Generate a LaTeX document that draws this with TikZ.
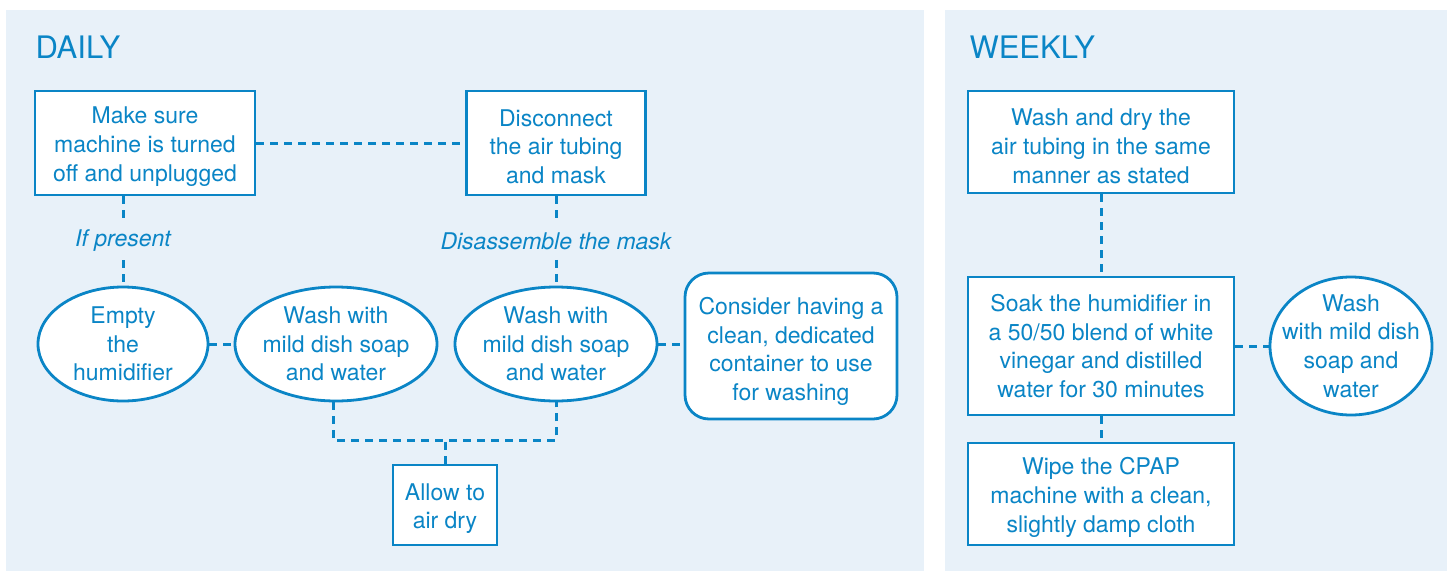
\documentclass[tikz,border=0pt]{standalone}
\usepackage{fontspec}
\setmainfont{TeX Gyre Heros}
\usetikzlibrary{shapes.geometric,positioning}
\definecolor{cpapblue}{HTML}{0A85C6}
\definecolor{panelbg}{HTML}{E8F1F9}
\newcommand\boxstrut[1][24pt]{\rule{0pt}{#1}}
\tikzset{
  stepbox/.style={draw=cpapblue,line width=2.8pt,fill=white,align=center,inner sep=0pt},
  stepoval/.style={ellipse,draw=cpapblue,line width=2.8pt,fill=white,align=center,inner sep=-16pt},
  link/.style={cpapblue,line width=3pt,dash pattern=on 8pt off 6pt}
}

\begin{document}
\begin{tikzpicture}[x=1pt,y=-1pt,
    every node/.style={text=cpapblue,font=\fontsize{23}{28.7}\selectfont},
    head/.style={anchor=base west,font=\fontsize{31}{34}\selectfont},
    note/.style={font=\fontsize{23}{28.7}\selectfont\itshape,inner sep=0pt}]
                \useasboundingbox (0,0) rectangle (1449,571);
                \fill[panelbg] (6,10) rectangle (924,571);
                \fill[panelbg] (945,10) rectangle (1447,571);
                \node [head] (daily) at (32,58) {DAILY};
                \node [head] (weekly) at (966,58) {WEEKLY};
                % daily
                \node [stepbox,minimum width=220pt,minimum height=104pt] (plug) at (145,143)
                    {\boxstrut Make sure\\machine is turned\\off and unplugged};
                \node [stepbox,minimum width=179pt,minimum height=104pt] (tube) at (556,143)
                    {\boxstrut Disconnect\\the air tubing\\and mask};
                \node [note] (ifpres) at (123,241) {If present};
                \node [note] (apart) at (556,241) {Disassemble the mask};
                \node [stepoval,minimum width=170pt,minimum height=114pt] (empty) at (123,344)
                    {Empty\\the\\humidifier};
                \node [stepoval,minimum width=202pt,minimum height=114pt] (soapa) at (336,344)
                    {Wash with\\mild dish soap\\and water};
                \node [stepoval,minimum width=202pt,minimum height=114pt] (soapb) at (556,344)
                    {Wash with\\mild dish soap\\and water};
                \node [stepbox,rounded corners=24pt,minimum width=212pt,minimum height=146pt] (tub) at (791,346)
                    {\boxstrut[28pt]Consider having a\\clean, dedicated\\container to use\\for washing};
                \node [stepbox,minimum width=104pt,minimum height=80pt] (dry) at (445,505)
                    {\boxstrut Allow to\\air dry};
                \draw [link] (plug) -- (tube);
                \draw [link] (plug.south -| empty.north) -- ([yshift=8pt]ifpres.north);
                \draw [link] ([yshift=-8pt]ifpres.south) -- (empty.north);
                \draw [link] (tube.south) -- ([yshift=8pt]apart.north);
                \draw [link] ([yshift=-10pt]apart.south) -- (soapb.north);
                \draw [link] (empty) -- (soapa);
                \draw [link] (soapb.east) -- (soapb.east -| tub.west);
                \draw [link] ([xshift=-3pt]soapa.south) -- ++(0,38) coordinate (join) -| (soapb.south);
                \draw [link] (dry.north) -- (dry.north |- join);
                % weekly
                \node [stepbox,minimum width=266pt,minimum height=102pt] (tubing) at (1101,142)
                    {\boxstrut[25pt]Wash and dry the\\air tubing in the same\\manner as stated};
                \node [stepbox,minimum width=266pt,minimum height=138pt] (soak) at (1101,346)
                    {Soak the humidifier in\\a 50/50 blend of white\\vinegar and distilled\\water for 30 minutes};
                \node [stepbox,minimum width=266pt,minimum height=102pt] (wipe) at (1101,494)
                    {\boxstrut Wipe the CPAP\\machine with a clean,\\slightly damp cloth};
                \node [stepoval,minimum width=162pt,minimum height=138pt] (rinse) at (1351,346)
                    {Wash\\with mild dish\\soap and\\water};
                \draw [link] (tubing) -- (soak);
                \draw [link] (soak) -- (wipe);
                \draw [link] (soak) -- (rinse);
\end{tikzpicture}
\end{document}
